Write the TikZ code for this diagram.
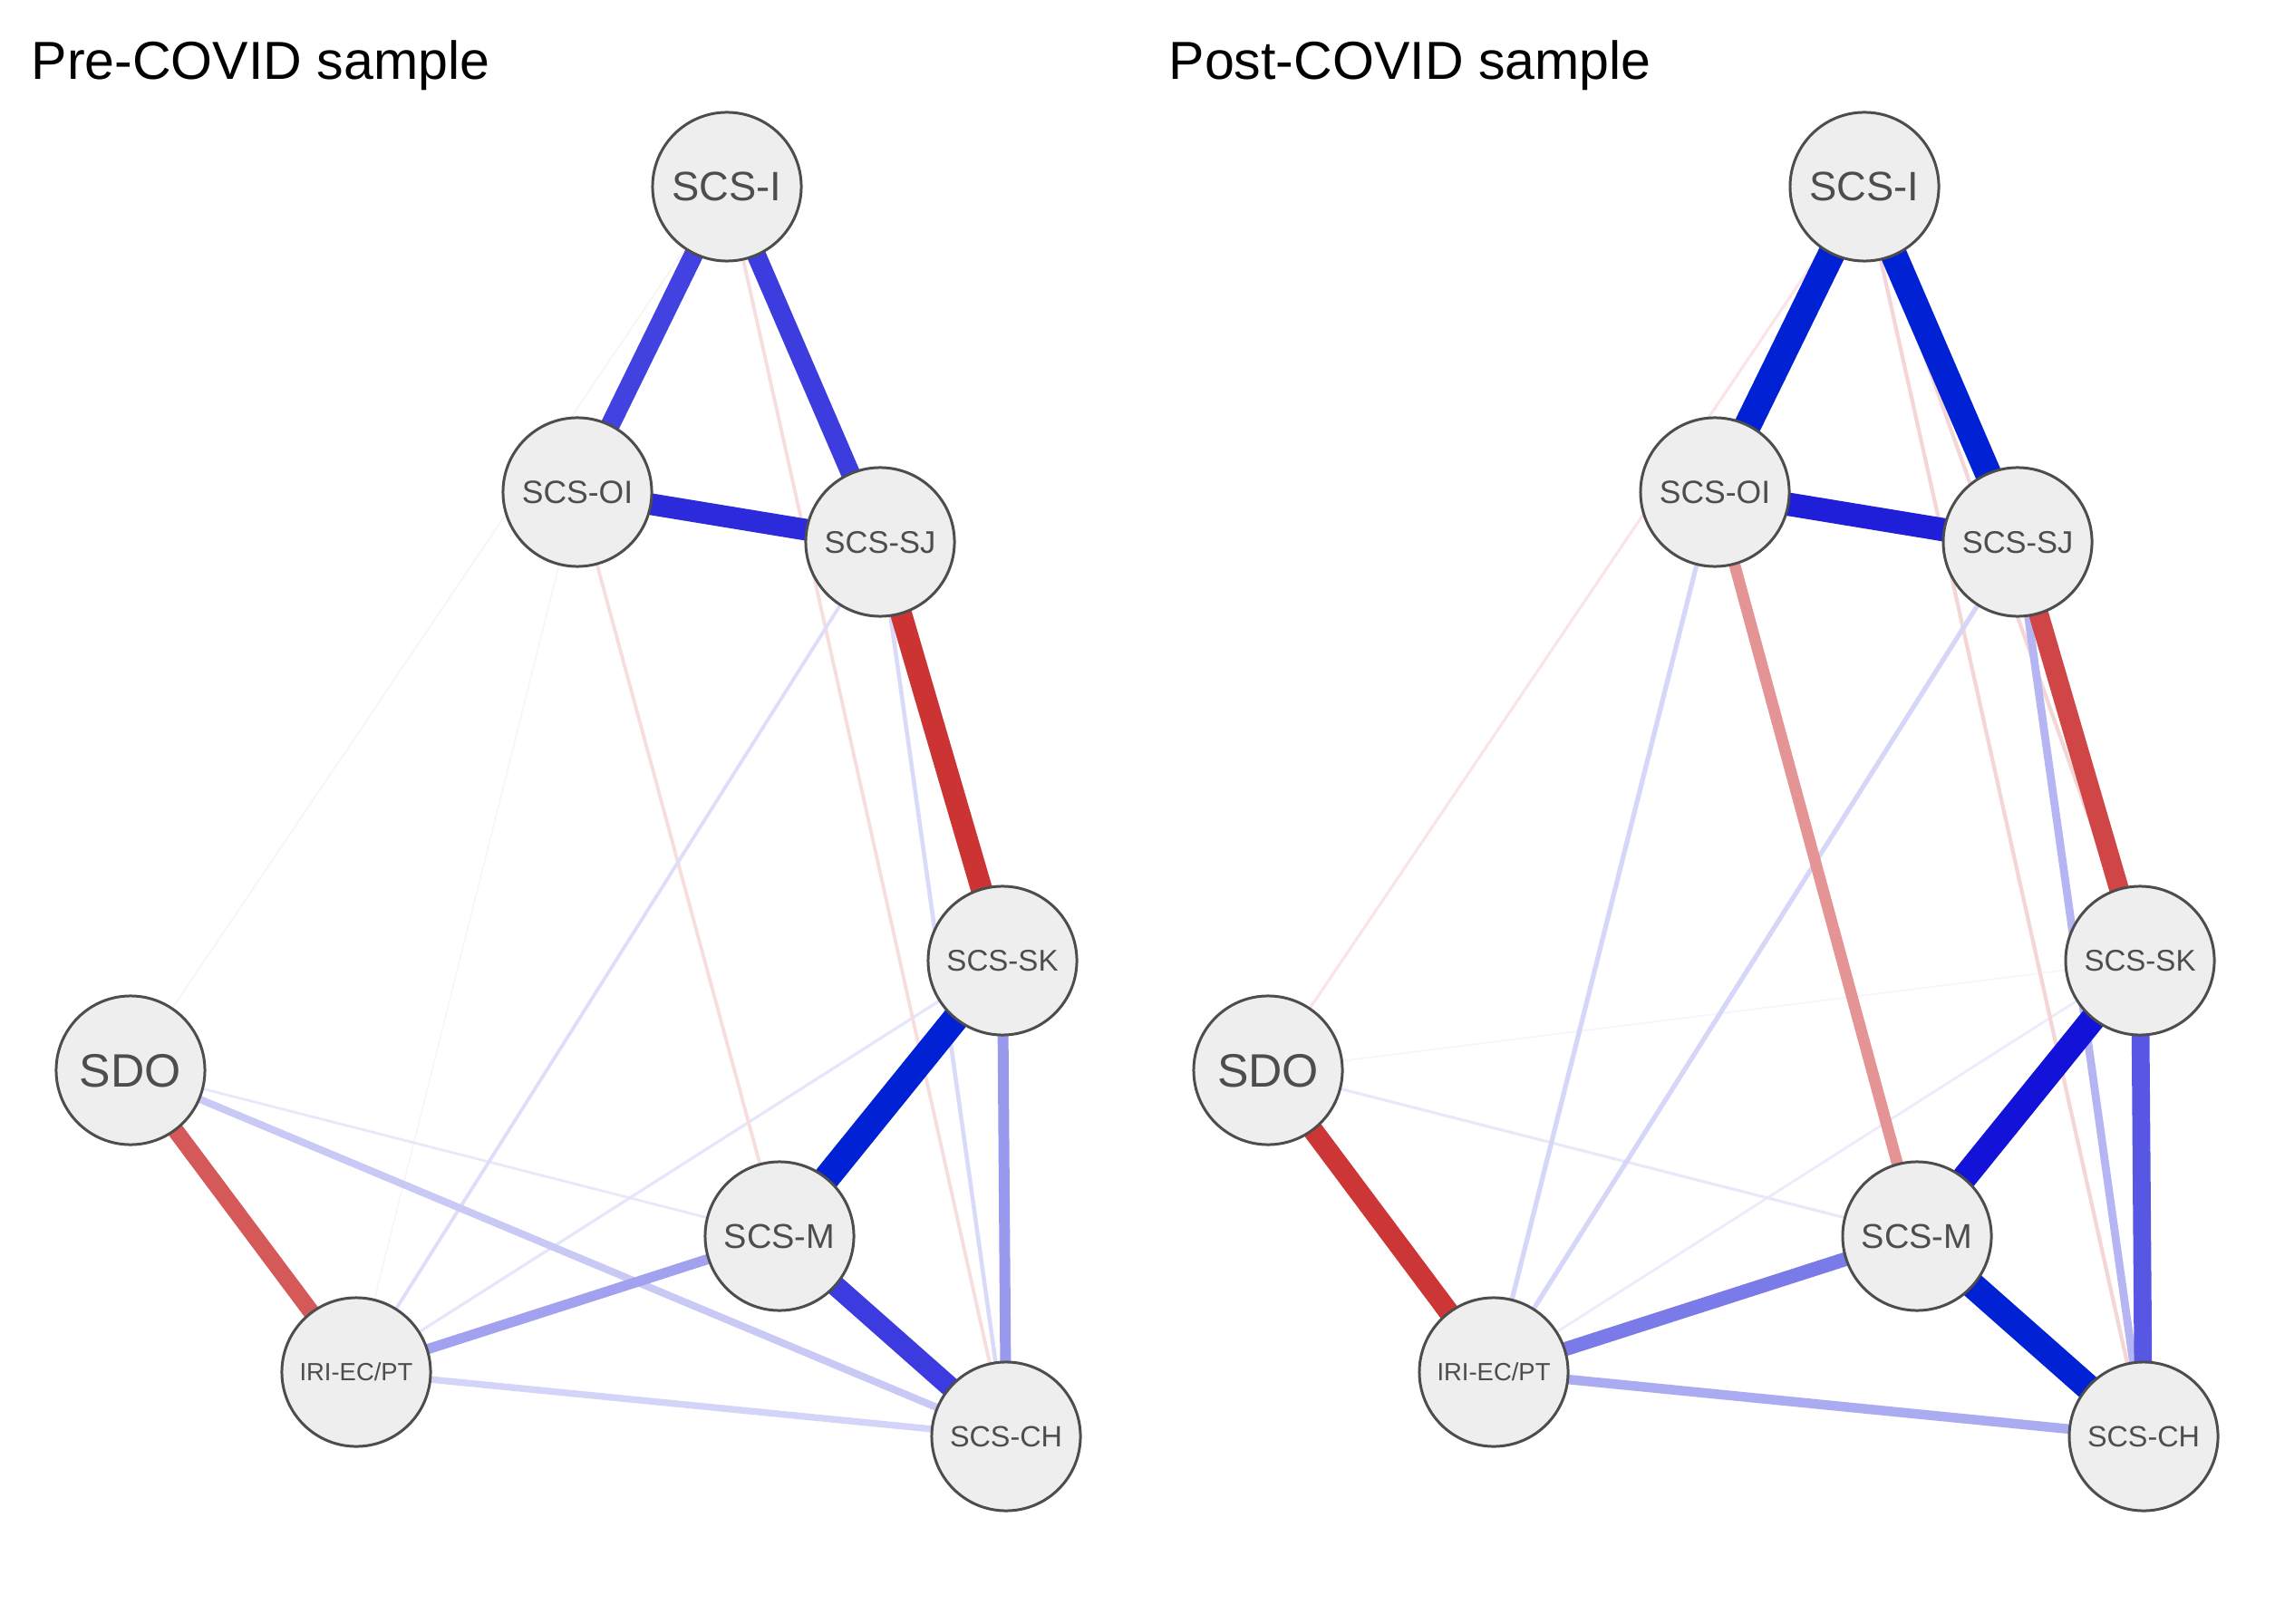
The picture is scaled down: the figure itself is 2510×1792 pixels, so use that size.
\documentclass[tikz,border=0pt]{standalone}
\usepackage{fontspec}
\setmainfont{Liberation Sans}
\usetikzlibrary{backgrounds}
\definecolor{bleu}{HTML}{0000D5}
\definecolor{bleufort}{HTML}{0022D4}
\definecolor{rouge}{HTML}{BF0000}
\definecolor{gris}{HTML}{4D4D4D}
\definecolor{fond}{HTML}{EEEEEE}

\begin{document}
\begin{tikzpicture}[x=0.01cm, y=-0.01cm]
	\tikzset{noeud/.style={circle, draw=gris, fill=fond, line width=0.85pt, text=gris, inner sep=0pt, minimum size=1.64cm, text depth=0pt}, arete/.style={line cap=butt}, titre/.style={anchor=base west, inner sep=0pt, font=\fontsize{16.8}{17}\selectfont}};
	\useasboundingbox (0,0) rectangle (2510,1792);

	\node[titre] (t1) at (  34,  88) {Pre-COVID sample};
	\node[titre] (t2) at (1289,  88) {Post-COVID sample};

	\node[noeud, font=\fontsize{12.9}{13}\selectfont] (i1)   at ( 802,  206) {SCS-I};
	\node[noeud, font=\fontsize{10.1}{11}\selectfont] (oi1)  at ( 637,  543) {SCS-OI};
	\node[noeud, font=\fontsize{9.8}{10}\selectfont]  (sj1)  at ( 971,  598) {SCS-SJ};
	\node[noeud, font=\fontsize{9.4}{10}\selectfont]  (sk1)  at (1106, 1060) {SCS-SK};
	\node[noeud, font=\fontsize{14.7}{15}\selectfont] (sdo1) at ( 144, 1181) {SDO};
	\node[noeud, font=\fontsize{10.8}{11}\selectfont] (m1)   at ( 860, 1364) {SCS-M};
	\node[noeud, font=\fontsize{7.8}{8}\selectfont]   (iri1) at ( 393, 1514) {IRI-EC/PT};
	\node[noeud, font=\fontsize{9.2}{10}\selectfont]  (ch1)  at (1110, 1585) {SCS-CH};

	\node[noeud, font=\fontsize{12.9}{13}\selectfont] (i2)   at (2057,  206) {SCS-I};
	\node[noeud, font=\fontsize{10.1}{11}\selectfont] (oi2)  at (1892,  543) {SCS-OI};
	\node[noeud, font=\fontsize{9.8}{10}\selectfont]  (sj2)  at (2226,  598) {SCS-SJ};
	\node[noeud, font=\fontsize{9.4}{10}\selectfont]  (sk2)  at (2361, 1060) {SCS-SK};
	\node[noeud, font=\fontsize{14.7}{15}\selectfont] (sdo2) at (1399, 1181) {SDO};
	\node[noeud, font=\fontsize{10.8}{11}\selectfont] (m2)   at (2115, 1364) {SCS-M};
	\node[noeud, font=\fontsize{7.8}{8}\selectfont]   (iri2) at (1648, 1514) {IRI-EC/PT};
	\node[noeud, font=\fontsize{9.2}{10}\selectfont]  (ch2)  at (2365, 1585) {SCS-CH};

	\begin{scope}[on background layer]
		\draw[arete, rouge!5,   line width=0.45pt] (sdo1.center) to (i1.center);
		\draw[arete, bleu!4,    line width=0.45pt] (oi1.center) to (iri1.center);
		\draw[arete, bleu!9,    line width=0.8pt]  (sdo1.center) to (m1.center);
		\draw[arete, bleu!10,   line width=0.9pt]  (iri1.center) to (sk1.center);
		\draw[arete, rouge!13,  line width=1.1pt]  (i1.center) to (ch1.center);
		\draw[arete, rouge!13,  line width=1.1pt]  (oi1.center) to (m1.center);
		\draw[arete, bleu!13,   line width=1.1pt]  (iri1.center) to (sj1.center);
		\draw[arete, bleu!15,   line width=1.3pt]  (sj1.center) to (ch1.center);
		\draw[arete, bleu!17,   line width=2.1pt]  (iri1.center) to (ch1.center);
		\draw[arete, bleu!21,   line width=2.3pt]  (sdo1.center) to (ch1.center);
		\draw[arete, bleu!37,   line width=3.2pt]  (iri1.center) to (m1.center);
		\draw[arete, bleu!40,   line width=3.4pt]  (sk1.center) to (ch1.center);
		\draw[arete, rouge!65,  line width=5.2pt]  (sdo1.center) to (iri1.center);
		\draw[arete, bleu!74,   line width=6.0pt]  (i1.center) to (oi1.center);
		\draw[arete, bleu!76,   line width=6.0pt]  (i1.center) to (sj1.center);
		\draw[arete, bleu!77,   line width=6.4pt]  (m1.center) to (ch1.center);
		\draw[arete, rouge!80,  line width=6.8pt]  (sj1.center) to (sk1.center);
		\draw[arete, bleu!83,   line width=6.8pt]  (oi1.center) to (sj1.center);
		\draw[arete, bleufort,  line width=8.3pt]  (sk1.center) to (m1.center);

		\draw[arete, bleu!4,    line width=0.5pt]  (sdo2.center) to (sk2.center);
		\draw[arete, bleu!8,    line width=0.8pt]  (iri2.center) to (sk2.center);
		\draw[arete, bleu!9,    line width=0.9pt]  (sdo2.center) to (m2.center);
		\draw[arete, rouge!10,  line width=0.9pt]  (sdo2.center) to (i2.center);
		\draw[arete, rouge!16,  line width=1.2pt]  (i2.center) to (ch2.center);
		\draw[arete, rouge!16,  line width=1.2pt]  (i2.center) to (sk2.center);
		\draw[arete, bleu!16,   line width=1.5pt]  (oi2.center) to (iri2.center);
		\draw[arete, bleu!16,   line width=1.5pt]  (sj2.center) to (iri2.center);
		\draw[arete, bleu!29,   line width=2.5pt]  (sj2.center) to (ch2.center);
		\draw[arete, bleu!33,   line width=3.0pt]  (iri2.center) to (ch2.center);
		\draw[arete, rouge!42,  line width=3.6pt]  (oi2.center) to (m2.center);
		\draw[arete, bleu!52,   line width=4.4pt]  (iri2.center) to (m2.center);
		\draw[arete, bleu!66,   line width=5.6pt]  (sk2.center) to (ch2.center);
		\draw[arete, rouge!73,  line width=6.2pt]  (sj2.center) to (sk2.center);
		\draw[arete, rouge!79,  line width=6.4pt]  (sdo2.center) to (iri2.center);
		\draw[arete, bleu!88,   line width=7.3pt]  (oi2.center) to (sj2.center);
		\draw[arete, bleu!93,   line width=7.9pt]  (sk2.center) to (m2.center);
		\draw[arete, bleufort,  line width=8.2pt]  (m2.center) to (ch2.center);
		\draw[arete, bleufort,  line width=8.3pt]  (i2.center) to (sj2.center);
		\draw[arete, bleufort,  line width=8.5pt]  (i2.center) to (oi2.center);
	\end{scope}

\end{tikzpicture}
\end{document}
